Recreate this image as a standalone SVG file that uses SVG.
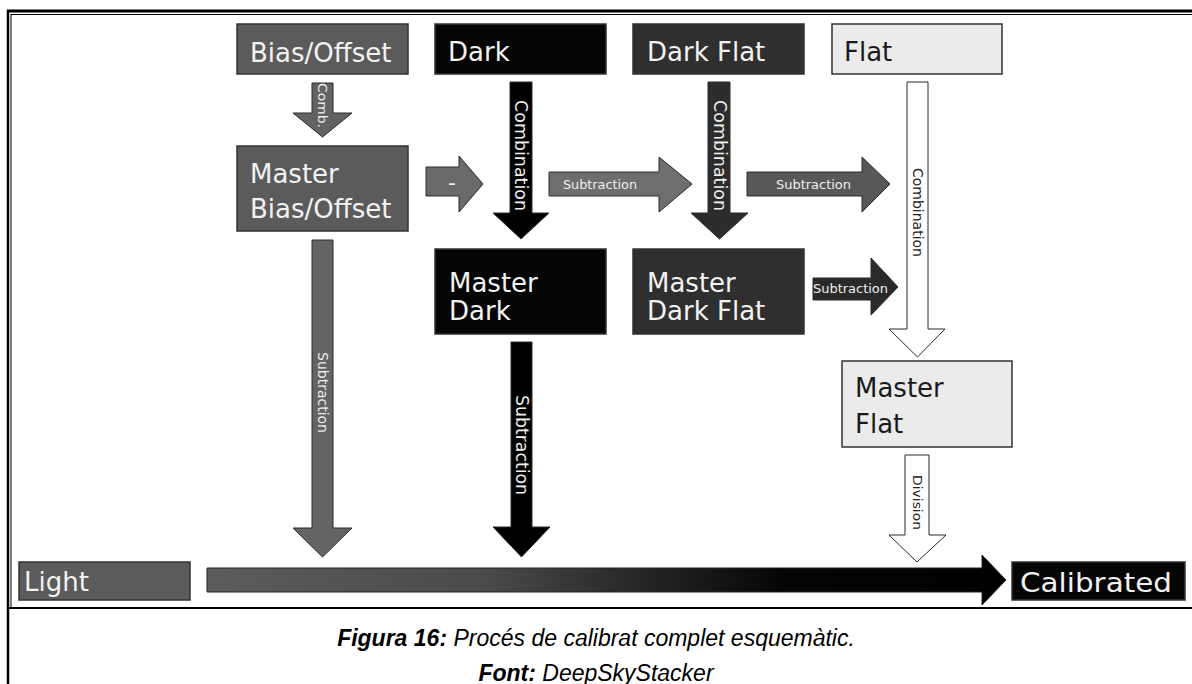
<svg xmlns="http://www.w3.org/2000/svg" width="1192" height="684" viewBox="0 0 1192 684">
<style>
.box{stroke:#333;stroke-width:1.5}
.g{fill:#5b5b5b}
.k{fill:#050505}
.d{fill:#2f2f2f}
.l{fill:#ebebeb}
.nt{font-family:"DejaVu Sans",Verdana,sans-serif;font-size:26px;fill:#f2f2f2}
.nd{font-family:"DejaVu Sans",Verdana,sans-serif;font-size:26px;fill:#1a1a1a}
.at{font-family:"DejaVu Sans",Verdana,sans-serif;fill:#eeeeee;text-anchor:middle;dominant-baseline:central}
.ad{font-family:"DejaVu Sans",Verdana,sans-serif;fill:#222;text-anchor:middle;dominant-baseline:central}
.arr{stroke:#2a2a2a;stroke-width:1}
.cap{font-family:"Liberation Sans",Arial,sans-serif;font-size:23px;font-style:italic;fill:#000;text-anchor:middle}
</style>
<defs>
<linearGradient id="lg" gradientUnits="userSpaceOnUse" x1="207" y1="0" x2="1005" y2="0">
<stop offset="0" stop-color="#5c5c5c"/>
<stop offset="0.35" stop-color="#4a4a4a"/>
<stop offset="0.72" stop-color="#050505"/>
<stop offset="1" stop-color="#000"/>
</linearGradient>
</defs>
<rect width="1192" height="684" fill="#fff"/>
<g id="frame" fill="none" stroke="#000">
<line x1="8" y1="10" x2="8" y2="684" stroke-width="2.5"/>
<line x1="7" y1="11" x2="1192" y2="11" stroke-width="3"/>
<line x1="11" y1="14.5" x2="1192" y2="14.5" stroke-width="1"/>
<line x1="11" y1="14" x2="11" y2="607" stroke-width="1"/>
<line x1="8" y1="608" x2="1192" y2="608" stroke-width="2"/>
</g>
<g id="connectors">
<polygon class="arr" fill="#626262" points="312,83 333,83 333,113 352,113 322.5,137 293,113 312,113"/>
<text class="at" font-size="13" textLength="45" lengthAdjust="spacingAndGlyphs" transform="translate(322.5,105.5) rotate(90)">Comb.</text>
<polygon class="arr" fill="#000" points="510,82 532,82 532,213 549,213 521,239 493,213 510,213"/>
<text class="at" font-size="17" textLength="111" lengthAdjust="spacingAndGlyphs" transform="translate(521,155.5) rotate(90)">Combination</text>
<polygon class="arr" fill="#2c2c2c" points="708,82 730,82 730,213 748,213 719.5,239 691,213 708,213"/>
<text class="at" font-size="17" textLength="111" lengthAdjust="spacingAndGlyphs" transform="translate(719.5,155.5) rotate(90)">Combination</text>
<polygon class="arr" fill="#fff" stroke="#333" points="907,82 928,82 928,329 945,329 917.5,357 889,329 907,329"/>
<text class="ad" font-size="14" textLength="89" lengthAdjust="spacingAndGlyphs" transform="translate(917.5,212.5) rotate(90)">Combination</text>
<polygon class="arr" fill="#6a6a6a" points="426,167 459,167 459,156 483,184 459,212 459,196 426,196"/>
<text class="at" font-size="22" x="452" y="182">-</text>
<polygon class="arr" fill="#6e6e6e" points="549,172 659,172 659,157 692,184 659,212 659,196 549,196"/>
<text class="at" font-size="13" textLength="74" lengthAdjust="spacingAndGlyphs" x="600" y="184">Subtraction</text>
<polygon class="arr" fill="#585858" points="747,172 862,172 862,157 890,184 862,212 862,196 747,196"/>
<text class="at" font-size="13" textLength="75" lengthAdjust="spacingAndGlyphs" x="813.5" y="184">Subtraction</text>
<polygon class="arr" fill="#2a2a2a" points="813,278 871,278 871,258 898,287 871,315 871,300 813,300"/>
<text class="at" font-size="13" textLength="75" lengthAdjust="spacingAndGlyphs" x="850.5" y="288">Subtraction</text>
<polygon class="arr" fill="#646464" points="312,240 333,240 333,528 352,528 322.5,557 293,528 312,528"/>
<text class="at" font-size="14" textLength="81" lengthAdjust="spacingAndGlyphs" transform="translate(322.5,392.5) rotate(90)">Subtraction</text>
<polygon class="arr" fill="#000" points="511,342 532,342 532,527 550,527 521.5,557 493,527 511,527"/>
<text class="at" font-size="17" textLength="100" lengthAdjust="spacingAndGlyphs" transform="translate(521.5,445) rotate(90)">Subtraction</text>
<polygon class="arr" fill="#fff" stroke="#333" points="905,455 929,455 929,535 946,535 917,562 889,535 905,535"/>
<text class="ad" font-size="13" textLength="55" lengthAdjust="spacingAndGlyphs" transform="translate(917,502.5) rotate(90)">Division</text>
<polygon fill="url(#lg)" stroke="#222" stroke-width="1" points="207,568 982,568 982,555 1006,580 982,605 982,592 207,592"/>
</g>
<g id="bias"><rect class="box g" x="237" y="24" width="171" height="50"/><text class="nt" x="250" y="62">Bias/Offset</text></g>
<g id="dark"><rect class="box k" x="435" y="24" width="171" height="50"/><text class="nt" x="448" y="61">Dark</text></g>
<g id="darkflat"><rect class="box d" x="633" y="24" width="171" height="50"/><text class="nt" x="647" y="61">Dark Flat</text></g>
<g id="flat"><rect class="box l" x="832" y="24" width="170" height="50"/><text class="nd" x="844" y="61">Flat</text></g>
<g id="masterbias"><rect class="box g" x="237" y="146" width="171" height="85"/><text class="nt" x="250" y="183">Master</text><text class="nt" x="250" y="218">Bias/Offset</text></g>
<g id="masterdark"><rect class="box k" x="435" y="249" width="171" height="85"/><text class="nt" x="449" y="292">Master</text><text class="nt" x="449" y="320">Dark</text></g>
<g id="masterdarkflat"><rect class="box d" x="633" y="249" width="171" height="85"/><text class="nt" x="647" y="292">Master</text><text class="nt" x="647" y="320">Dark Flat</text></g>
<g id="masterflat"><rect class="box l" x="842" y="361" width="170" height="86"/><text class="nd" x="855" y="397">Master</text><text class="nd" x="855" y="433">Flat</text></g>
<g id="light"><rect class="box g" x="19" y="562" width="171" height="38"/><text class="nt" x="24" y="591" font-size="27">Light</text></g>
<g id="calibrated"><rect class="box k" x="1012" y="562" width="173" height="38"/><text class="nt" x="1020" y="592" font-size="28" textLength="152" lengthAdjust="spacingAndGlyphs">Calibrated</text></g>
<g id="caption">
<text class="cap" x="596" y="646"><tspan font-weight="bold">Figura 16:</tspan> Procés de calibrat complet esquemàtic.</text>
<text class="cap" x="596" y="681"><tspan font-weight="bold">Font:</tspan> DeepSkyStacker</text>
</g>
</svg>
